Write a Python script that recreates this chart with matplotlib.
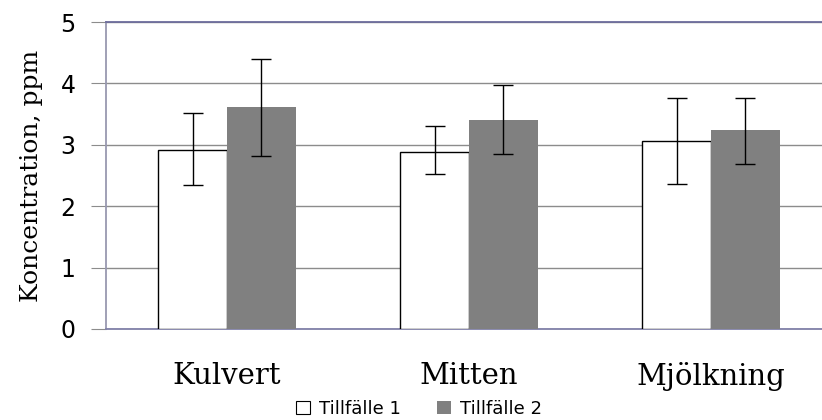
import numpy as np
import matplotlib.pyplot as plt
from matplotlib.patches import Patch

categories = ['Kulvert', 'Mitten', 'Mjölkning']
series_names = ['Tillfälle 1', 'Tillfälle 2']
t1_values = [2.92, 2.89, 3.06]
t2_values = [3.62, 3.41, 3.24]
t1_low = [2.34, 2.52, 2.36]
t1_high = [3.52, 3.30, 3.77]
t2_low = [2.82, 2.85, 2.69]
t2_high = [4.40, 3.98, 3.77]

fig = plt.figure(figsize=(8.22, 4.20), dpi=100)
ax = fig.add_axes([106 / 822, 1 - 329 / 420, 726 / 822, 307 / 420])

x = np.arange(len(categories))
w = 0.285
err1 = [np.subtract(t1_values, t1_low), np.subtract(t1_high, t1_values)]
err2 = [np.subtract(t2_values, t2_low), np.subtract(t2_high, t2_values)]
ax.bar(x - w / 2, t1_values, w, color='white', edgecolor='black', linewidth=1.0, zorder=3)
ax.bar(x + w / 2, t2_values, w, color='#808080', edgecolor='none', zorder=3)
ax.errorbar(x - w / 2, t1_values, yerr=err1, fmt='none', ecolor='black', elinewidth=1.0,
            capsize=7, capthick=1.0, zorder=4)
ax.errorbar(x + w / 2, t2_values, yerr=err2, fmt='none', ecolor='black', elinewidth=1.0,
            capsize=7, capthick=1.0, zorder=4)

ax.set_xlim(-0.5, 2.5)
ax.set_ylim(0, 5)
ax.set_yticks(range(6))
ax.yaxis.grid(True, color='#8c8c8c', linewidth=1.0, zorder=0)
ax.set_axisbelow(True)
ax.spines['right'].set_visible(False)
ax.spines['top'].set_color('#6c6c9c')
ax.spines['bottom'].set_color('#8080a8')
ax.spines['left'].set_color('#9898b0')
for s in ['top', 'bottom', 'left']:
    ax.spines[s].set_linewidth(1.3)
ax.tick_params(axis='y', length=11, color='#8c8c8c', pad=11, labelsize=17)
ax.tick_params(axis='x', length=0, pad=24)
for lab in ax.get_yticklabels():
    lab.set_fontfamily('DejaVu Sans')
ax.set_xticks(x)
ax.set_xticklabels(categories, fontfamily='DejaVu Serif', fontsize=21)
ax.set_ylabel('Koncentration, ppm', fontfamily='DejaVu Serif', fontsize=18)
ax.yaxis.set_label_coords(-0.087, 0.5)

handles = [Patch(facecolor='white', edgecolor='black', linewidth=0.8),
           Patch(facecolor='#808080', edgecolor='none')]
fig.legend(handles, series_names, loc='center', bbox_to_anchor=(419 / 822, 1 - 409 / 420),
           ncol=2, frameon=False, handlelength=0.75, handleheight=0.75,
           handletextpad=0.5, columnspacing=2.0, prop={'family': 'DejaVu Sans', 'size': 13})

fig.savefig('out.png', dpi=100)
